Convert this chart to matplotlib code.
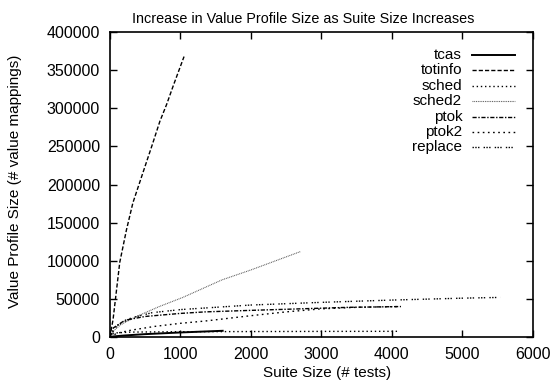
import matplotlib
matplotlib.use("Agg")
import matplotlib.pyplot as plt

plt.rcParams["font.family"] = ["Liberation Sans", "DejaVu Sans"]

# data
names = ["tcas", "totinfo", "sched", "sched2", "ptok", "ptok2", "replace"]

tcas_x = [0, 50, 200, 500, 1000, 1600]
tcas_y = [0, 800, 2000, 3800, 6000, 8200]

totinfo_x = [0, 45, 140, 236, 326, 470, 600, 709, 804, 900, 1000, 1052]
totinfo_y = [0, 23000, 98000, 141000, 176000, 216000, 252000, 283000, 305000, 330000, 355000, 368000]

sched_x = [0, 30, 100, 300, 1000, 2000, 3000, 4100]
sched_y = [0, 4000, 5500, 6500, 7000, 7200, 7400, 7500]

sched2_x = [0, 50, 150, 355, 700, 1035, 1590, 2000, 2700]
sched2_y = [0, 8000, 16000, 26000, 40000, 52000, 75000, 88000, 112000]

ptok_x = [0, 50, 213, 500, 1000, 1350, 2000, 2700, 3400, 4130]
ptok_y = [0, 12000, 22000, 27000, 31000, 33000, 35000, 37000, 39000, 40000]

ptok2_x = [0, 100, 300, 640, 1000, 1350, 2000, 2500, 3000, 3500, 4115]
ptok2_y = [0, 5000, 9000, 14000, 18000, 21000, 28000, 33000, 37000, 39000, 40000]

replace_x = [0, 100, 300, 600, 1000, 1500, 2000, 3000, 4000, 5000, 5542]
replace_y = [0, 15000, 25000, 32000, 36000, 39000, 42000, 45500, 48500, 51000, 52000]

xs = [tcas_x, totinfo_x, sched_x, sched2_x, ptok_x, ptok2_x, replace_x]
ys = [tcas_y, totinfo_y, sched_y, sched2_y, ptok_y, ptok2_y, replace_y]

styles = [
    dict(color="black", lw=1.4, ls="-"),
    dict(color="black", lw=1.0, dashes=(3, 1.5)),
    dict(color="black", lw=1.0, dashes=(1, 2)),
    dict(color="#555555", lw=0.8, dashes=(0.8, 0.8)),
    dict(color="black", lw=1.0, dashes=(3, 1.2, 1, 1.2)),
    dict(color="black", lw=1.0, dashes=(1.2, 2.5)),
    dict(color="black", lw=1.0, dashes=(1, 1, 1, 1, 1, 3)),
]

fig = plt.figure(figsize=(5.55, 3.83), dpi=100)
ax = fig.add_axes([0.198, 0.120, 0.762, 0.796])

for x, y, st in zip(xs, ys, styles):
    ax.plot(x, y, **st)

ax.set_xlim(0, 6000)
ax.set_ylim(0, 400000)
ax.set_xticks(range(0, 6001, 1000))
ax.set_yticks(range(0, 400001, 50000))
ax.tick_params(direction="in", top=True, right=True, length=5, width=1, labelsize=11.5, pad=7)
for s in ax.spines.values():
    s.set_linewidth(1.2)

ax.set_title("Increase in Value Profile Size as Suite Size Increases", fontsize=10.4, pad=6.5, x=0.456)
ax.set_xlabel("Suite Size (# tests)", fontsize=11)
ax.set_ylabel("Value Profile Size (# value mappings)", fontsize=11)
ax.xaxis.set_label_coords(0.514, -0.095)
ax.yaxis.set_label_coords(-0.208, 0.51)

# gnuplot style key: right aligned names, sample line after the name
row0 = 0.925
step = 15.4 / (0.796 * 383)
for i, (n, st) in enumerate(zip(names, styles)):
    yy = row0 - i * step
    ax.text(0.833, yy, n, transform=ax.transAxes, ha="right", va="center", fontsize=11)
    ax.plot([0.857, 0.957], [yy, yy], transform=ax.transAxes, **st)

fig.savefig("out.png", dpi=100)
